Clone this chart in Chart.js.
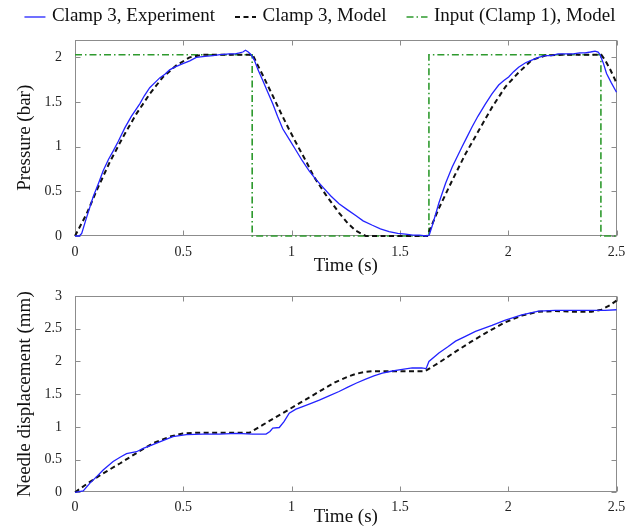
<!DOCTYPE html>
<html>
<head>
<meta charset="utf-8">
<script src="https://cdn.jsdelivr.net/npm/chart.js@4.4.0/dist/chart.umd.min.js"></script>
<style>
html,body{margin:0;padding:0;background:#fff;}
#wrap{position:relative;width:634px;height:529px;overflow:hidden;background:#fff;}
#c1{position:absolute;left:0;top:0;}
#c2{position:absolute;left:0;top:280px;}
</style>
</head>
<body>
<div id="wrap">
<canvas id="c1" width="634" height="290"></canvas>
<canvas id="c2" width="634" height="249"></canvas>
</div>
<script>
// ---------- data ----------
const seriesNames = ["Clamp 3, Experiment", "Clamp 3, Model", "Input (Clamp 1), Model"];
const xTickValues = [0, 0.5, 1, 1.5, 2, 2.5];
const pressureTickValues = [0, 0.5, 1, 1.5, 2];
const dispTickValues = [0, 0.5, 1, 1.5, 2, 2.5, 3];

// Top panel: pressure (bar)
const timeExpP = [0, 0.02, 0.031, 0.05, 0.084, 0.11, 0.13, 0.155, 0.176, 0.2, 0.23, 0.26, 0.299, 0.32, 0.345, 0.37, 0.391, 0.415, 0.437, 0.46, 0.498, 0.53, 0.56, 0.6, 0.637, 0.67, 0.713, 0.74, 0.759, 0.775, 0.787, 0.8, 0.813, 0.828, 0.845, 0.867, 0.89, 0.913, 0.935, 0.959, 0.99, 1.02, 1.05, 1.081, 1.11, 1.143, 1.18, 1.219, 1.26, 1.296, 1.33, 1.373, 1.41, 1.45, 1.49, 1.526, 1.56, 1.59, 1.62, 1.635, 1.65, 1.68, 1.711, 1.741, 1.765, 1.787, 1.81, 1.833, 1.86, 1.895, 1.925, 1.956, 1.98, 2.002, 2.025, 2.048, 2.08, 2.109, 2.14, 2.171, 2.2, 2.23, 2.263, 2.3, 2.33, 2.355, 2.38, 2.401, 2.415, 2.424, 2.44, 2.454, 2.475, 2.5];
const pressureExp = [0, 0, 0.03, 0.18, 0.44, 0.6, 0.73, 0.86, 0.95, 1.06, 1.21, 1.34, 1.48, 1.57, 1.66, 1.72, 1.77, 1.81, 1.86, 1.89, 1.93, 1.96, 2.0, 2.01, 2.02, 2.03, 2.04, 2.04, 2.05, 2.06, 2.08, 2.06, 2.03, 1.97, 1.86, 1.74, 1.61, 1.48, 1.34, 1.2, 1.08, 0.96, 0.84, 0.73, 0.64, 0.55, 0.45, 0.36, 0.29, 0.23, 0.17, 0.12, 0.08, 0.05, 0.03, 0.02, 0.01, 0.01, 0, 0.01, 0.12, 0.37, 0.59, 0.77, 0.89, 1.0, 1.11, 1.22, 1.34, 1.48, 1.59, 1.69, 1.74, 1.78, 1.84, 1.89, 1.94, 1.97, 2.0, 2.02, 2.02, 2.04, 2.04, 2.04, 2.05, 2.05, 2.06, 2.07, 2.06, 2.03, 1.93, 1.82, 1.72, 1.61];

const timeModP = [0, 0.054, 0.1, 0.161, 0.222, 0.284, 0.345, 0.406, 0.468, 0.529, 0.59, 0.7, 0.82, 0.84, 0.867, 0.913, 0.95, 0.989, 1.03, 1.066, 1.104, 1.158, 1.219, 1.26, 1.296, 1.342, 1.5, 1.626, 1.68, 1.741, 1.803, 1.864, 1.925, 1.987, 2.048, 2.109, 2.171, 2.25, 2.43, 2.447, 2.47, 2.493, 2.5];
const pressureMod = [0, 0.25, 0.51, 0.83, 1.11, 1.37, 1.59, 1.78, 1.91, 2.0, 2.03, 2.03, 2.03, 1.93, 1.8, 1.57, 1.38, 1.19, 1.0, 0.84, 0.66, 0.46, 0.26, 0.14, 0.06, 0, 0, 0, 0.31, 0.62, 0.92, 1.18, 1.44, 1.67, 1.83, 1.97, 2.02, 2.03, 2.03, 1.97, 1.87, 1.75, 1.71];

const timeInput = [0, 0.818, 0.818, 1.634, 1.634, 2.428, 2.428, 2.5];
const pressureInput = [2.03, 2.03, 0, 0, 2.03, 2.03, 0, 0];

// Bottom panel: needle displacement (mm)
const timeExpD = [0, 0.038, 0.069, 0.1, 0.13, 0.176, 0.21, 0.238, 0.284, 0.315, 0.345, 0.391, 0.452, 0.514, 0.59, 0.667, 0.744, 0.821, 0.882, 0.9, 0.913, 0.943, 0.965, 0.989, 1.02, 1.051, 1.09, 1.128, 1.17, 1.219, 1.262, 1.3, 1.342, 1.38, 1.419, 1.46, 1.496, 1.557, 1.6, 1.621, 1.634, 1.68, 1.72, 1.757, 1.8, 1.849, 1.925, 1.987, 2.063, 2.14, 2.217, 2.293, 2.37, 2.447, 2.5];
const dispExp = [0, 0.02, 0.14, 0.24, 0.34, 0.47, 0.54, 0.59, 0.62, 0.67, 0.71, 0.77, 0.85, 0.88, 0.89, 0.89, 0.9, 0.89, 0.89, 0.93, 0.98, 0.99, 1.08, 1.21, 1.27, 1.31, 1.36, 1.41, 1.47, 1.54, 1.61, 1.67, 1.73, 1.78, 1.82, 1.85, 1.87, 1.9, 1.9, 1.89, 2.0, 2.13, 2.22, 2.31, 2.38, 2.46, 2.55, 2.63, 2.71, 2.77, 2.78, 2.78, 2.78, 2.78, 2.79];

const timeModD = [0, 0.069, 0.13, 0.207, 0.284, 0.36, 0.437, 0.498, 0.56, 0.7, 0.805, 0.867, 0.959, 1.051, 1.143, 1.2, 1.262, 1.296, 1.34, 1.373, 1.45, 1.526, 1.615, 1.68, 1.757, 1.833, 1.91, 1.987, 2.063, 2.14, 2.217, 2.3, 2.385, 2.431, 2.47, 2.5];
const dispMod = [0, 0.16, 0.29, 0.44, 0.6, 0.75, 0.85, 0.9, 0.91, 0.91, 0.91, 1.03, 1.21, 1.39, 1.57, 1.68, 1.77, 1.81, 1.84, 1.85, 1.85, 1.85, 1.85, 1.98, 2.15, 2.31, 2.46, 2.6, 2.7, 2.76, 2.77, 2.76, 2.76, 2.79, 2.86, 2.93];

// ---------- helpers ----------
const zip = (xs, ys) => xs.map((x, i) => ({x: x, y: ys[i]}));
const FONT = "'Liberation Serif', 'Times New Roman', serif";
const BLUE = '#2323ff', BLACK = '#111111', GREEN = '#2e9a2e';
const DASH_MODEL = [5, 3.5], DASH_INPUT = [7, 3, 1.5, 3];

const boxPlugin = {
  id: 'matlabBox',
  beforeDatasetsDraw(chart) {
    const {ctx, chartArea: a, scales} = chart;
    const xs = scales.x, ys = scales.y;
    const L = Math.round(a.left) + 0.5, R = Math.round(a.right) - 0.5;
    const T = Math.round(a.top) + 0.5, B = Math.round(a.bottom) - 0.5;
    ctx.save();
    ctx.strokeStyle = '#8c8c8c';
    ctx.lineWidth = 1;
    ctx.strokeRect(L, T, R - L, B - T);
    const len = 5;
    ctx.beginPath();
    xs.ticks.forEach(t => {
      const p = Math.round(xs.getPixelForValue(t.value)) + 0.5;
      ctx.moveTo(p, B); ctx.lineTo(p, B - len);
      ctx.moveTo(p, T); ctx.lineTo(p, T + len);
    });
    ys.ticks.forEach(t => {
      const p = Math.round(ys.getPixelForValue(t.value)) + 0.5;
      ctx.moveTo(L, p); ctx.lineTo(L + len, p);
      ctx.moveTo(R, p); ctx.lineTo(R - len, p);
    });
    ctx.stroke();
    ctx.restore();
  }
};

// Legend laid out in one row like the original figure (line sample, short gap, text, wide gap)
const legendPlugin = {
  id: 'rowLegend',
  afterDraw(chart) {
    const {ctx} = chart;
    const ds = chart.data.datasets;
    ctx.save();
    ctx.font = '19px ' + FONT;
    ctx.textBaseline = 'middle';
    ctx.textAlign = 'left';
    const lineLen = 21, gapLT = 6.5, gapItem = 20, cy = 16.5;
    const widths = ds.map(d => ctx.measureText(d.label).width);
    const total = widths.reduce((s, w) => s + lineLen + gapLT + w, 0) + gapItem * (ds.length - 1);
    let x = 320 - total / 2;
    ds.forEach((d, i) => {
      ctx.strokeStyle = d.borderColor;
      ctx.lineWidth = d.borderWidth;
      ctx.setLineDash(d.borderDash || []);
      ctx.beginPath();
      ctx.moveTo(x, cy + 0.5);
      ctx.lineTo(x + lineLen, cy + 0.5);
      ctx.stroke();
      ctx.setLineDash([]);
      ctx.fillStyle = '#111';
      ctx.fillText(d.label, x + lineLen + gapLT, cy);
      x += lineLen + gapLT + widths[i] + gapItem;
    });
    ctx.restore();
  }
};

function xAxis(height, tickPad, titleBottom) {
  return {
    type: 'linear', min: 0, max: 2.5, position: 'bottom',
    afterBuildTicks: s => { s.ticks = xTickValues.map(v => ({value: v})); },
    afterFit: s => { s.height = height; s.paddingLeft = 0; s.paddingRight = 0; },
    grid: {display: false, drawTicks: false},
    border: {display: false},
    ticks: {color: '#222', font: {family: FONT, size: 14}, padding: tickPad, maxRotation: 0, callback: v => String(v)},
    title: {display: true, text: 'Time (s)', color: '#111', font: {family: FONT, size: 19}, padding: {top: 0, bottom: titleBottom}}
  };
}
function yAxis(max, ticks, title) {
  return {
    type: 'linear', min: 0, max: max, position: 'left',
    afterBuildTicks: s => { s.ticks = ticks.map(v => ({value: v})); },
    afterFit: s => { s.width = 75; s.paddingTop = 0; s.paddingBottom = 0; },
    grid: {display: false, drawTicks: false},
    border: {display: false},
    ticks: {color: '#222', font: {family: FONT, size: 14}, padding: 13, callback: v => String(v)},
    title: {display: true, text: title, color: '#111', font: {family: FONT, size: 19}, padding: {top: 13.6, bottom: 0}}
  };
}

// ---------- top chart ----------
new Chart(document.getElementById('c1'), {
  type: 'line',
  data: {
    datasets: [
      {label: seriesNames[0], data: zip(timeExpP, pressureExp), borderColor: BLUE, borderWidth: 1.3, pointRadius: 0, tension: 0, clip: 4},
      {label: seriesNames[1], data: zip(timeModP, pressureMod), borderColor: BLACK, borderWidth: 2, borderDash: DASH_MODEL, pointRadius: 0, tension: 0, clip: 4},
      {label: seriesNames[2], data: zip(timeInput, pressureInput), borderColor: GREEN, borderWidth: 1.6, borderDash: DASH_INPUT, pointRadius: 0, tension: 0, clip: 4}
    ]
  },
  options: {
    responsive: false, animation: false, devicePixelRatio: 1,
    layout: {autoPadding: false, padding: {top: 39.5, left: 0, right: 17.5, bottom: 0}},
    plugins: {legend: {display: false}, tooltip: {enabled: false}},
    scales: {
      x: xAxis(54, 7.6, 12.6),
      y: yAxis(2.2, pressureTickValues, 'Pressure (bar)')
    }
  },
  plugins: [boxPlugin, legendPlugin]
});

// ---------- bottom chart ----------
new Chart(document.getElementById('c2'), {
  type: 'line',
  data: {
    datasets: [
      {label: seriesNames[0], data: zip(timeExpD, dispExp), borderColor: BLUE, borderWidth: 1.3, pointRadius: 0, tension: 0, clip: 4},
      {label: seriesNames[1], data: zip(timeModD, dispMod), borderColor: BLACK, borderWidth: 2, borderDash: DASH_MODEL, pointRadius: 0, tension: 0, clip: 4}
    ]
  },
  options: {
    responsive: false, animation: false, devicePixelRatio: 1,
    layout: {autoPadding: false, padding: {top: 16, left: 0, right: 17.5, bottom: 0}},
    plugins: {legend: {display: false}, tooltip: {enabled: false}},
    scales: {
      x: xAxis(36.7, 7, 1),
      y: yAxis(3, dispTickValues, 'Needle displacement (mm)')
    }
  },
  plugins: [boxPlugin]
});
</script>
</body>
</html>
